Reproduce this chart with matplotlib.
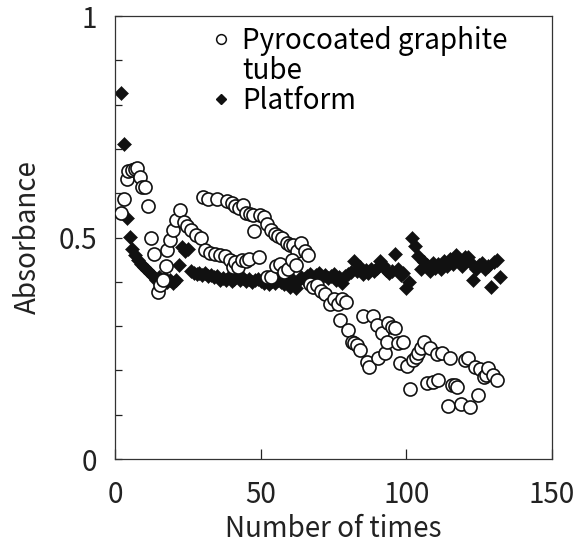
import numpy as np
import matplotlib
matplotlib.use("Agg")
import matplotlib.pyplot as plt
from matplotlib.lines import Line2D

plt.rcParams['font.family'] = ['Noto Sans CJK JP', 'DejaVu Sans']

# ---- data ----
# Platform (filled diamonds), one reading per run
plat_x = list(range(2, 133))
plat_y = [0.826, 0.712, 0.545, 0.502, 0.475, 0.460, 0.449, 0.440, 0.433, 0.427,
          0.420, 0.414, 0.405, 0.410, 0.402, 0.408, 0.400, 0.405, 0.398, 0.403,
          0.437, 0.478, 0.470, 0.474, 0.425, 0.420, 0.418, 0.421, 0.415, 0.419,
          0.413, 0.416, 0.410, 0.414, 0.405, 0.408, 0.404, 0.410, 0.401, 0.407,
          0.412, 0.405, 0.408, 0.402, 0.406, 0.400, 0.404, 0.407, 0.401, 0.398,
          0.403, 0.396, 0.401, 0.397, 0.404, 0.399, 0.395, 0.402, 0.389, 0.404,
          0.385, 0.403, 0.410, 0.406, 0.412, 0.418, 0.409, 0.415, 0.420, 0.411,
          0.416, 0.408, 0.413, 0.418, 0.405, 0.410, 0.398, 0.412, 0.418, 0.422,
          0.447, 0.425, 0.433, 0.418, 0.427, 0.421, 0.430, 0.424, 0.432, 0.447,
          0.438, 0.427, 0.419, 0.425, 0.462, 0.430, 0.416, 0.420, 0.385, 0.400,
          0.500, 0.480, 0.458, 0.430, 0.445, 0.437, 0.425, 0.442, 0.432, 0.440,
          0.428, 0.447, 0.436, 0.452, 0.440, 0.460, 0.448, 0.435, 0.455, 0.457,
          0.445, 0.404, 0.428, 0.437, 0.442, 0.430, 0.435, 0.388, 0.445, 0.450,
          0.410]

# Pyrocoated graphite tube (open circles)
pyro_x = [2.1, 3.0, 4.0, 4.6, 5.9, 7.0, 7.7, 8.6, 9.4, 10.4, 11.3, 12.3, 13.3,
          14.9, 15.6, 16.5, 17.4, 17.9, 18.9, 20.0, 21.1, 22.2,
          23.7, 24.8, 26.0, 27.8, 29.4, 30.9, 32.6, 34.3, 36.0, 37.8, 39.5,
          40.5, 41.2, 42.3, 43.5, 44.8, 46.1, 47.6, 49.5,
          30.1, 32.0, 35.1, 38.3, 40.0, 41.2, 42.6, 43.8, 45.0, 46.3, 47.5,
          49.8, 51.1, 52.1, 53.5, 54.9, 56.0, 57.2, 58.9, 60.0, 61.2, 62.5,
          63.7, 65.2, 66.4,
          52.2, 53.4, 55.3, 56.6, 57.9, 59.3, 60.7, 62.0,
          66.8, 68.1, 69.5, 70.8, 72.1, 73.8, 75.2, 76.7, 77.2, 78.0, 79.3,
          80.1, 81.3, 82.2, 83.0, 84.1, 85.2, 86.4, 87.3, 88.5, 89.8, 90.4,
          91.6, 92.7, 93.3, 93.8, 95.0, 96.1, 97.3, 97.8, 99.0, 100.1, 101.3,
          102.2, 103.2, 104.1, 105.0, 105.9, 107.0, 108.1, 109.1, 110.4, 111.0,
          112.4, 114.3, 115.0, 115.6, 116.7, 117.3, 118.9, 120.0, 121.3, 121.9,
          123.6, 124.7, 125.3, 126.5, 127.2, 128.2, 129.9, 131.0]
pyro_y = [0.556, 0.587, 0.633, 0.650, 0.653, 0.654, 0.656, 0.636, 0.615, 0.613,
          0.570, 0.500, 0.463, 0.377, 0.392, 0.405, 0.436, 0.472, 0.495, 0.517,
          0.540, 0.562,
          0.536, 0.526, 0.517, 0.506, 0.500, 0.472, 0.464, 0.463, 0.460, 0.458,
          0.449, 0.433, 0.445, 0.433, 0.449, 0.447, 0.451, 0.514, 0.457,
          0.592, 0.586, 0.588, 0.583, 0.578, 0.571, 0.566, 0.573, 0.555, 0.553,
          0.551, 0.551, 0.547, 0.530, 0.518, 0.509, 0.503, 0.500, 0.487, 0.482,
          0.483, 0.470, 0.488, 0.470, 0.460,
          0.410, 0.411, 0.435, 0.440, 0.423, 0.430, 0.449, 0.437,
          0.395, 0.389, 0.392, 0.380, 0.372, 0.351, 0.362, 0.351, 0.314, 0.362,
          0.355, 0.291, 0.263, 0.262, 0.257, 0.246, 0.323, 0.220, 0.208, 0.323,
          0.302, 0.227, 0.285, 0.240, 0.265, 0.306, 0.298, 0.295, 0.261, 0.216,
          0.263, 0.210, 0.157, 0.223, 0.230, 0.239, 0.250, 0.263, 0.171, 0.251,
          0.174, 0.237, 0.178, 0.240, 0.119, 0.229, 0.167, 0.166, 0.163, 0.125,
          0.223, 0.229, 0.118, 0.208, 0.144, 0.203, 0.186, 0.190, 0.205, 0.190,
          0.178]

x_ticks = [0, 50, 100, 150]
y_ticks = [0, 0.5, 1]
y_minor = [0.1, 0.2, 0.3, 0.4, 0.6, 0.7, 0.8, 0.9]

# ---- figure ----
fig = plt.figure(figsize=(5.85, 5.48), dpi=100)
ax = fig.add_axes([0.1966, 0.1624, 0.747, 0.8084])

ax.plot(plat_x, plat_y, linestyle='none', marker='D', ms=7.0,
        mfc='#111111', mec='#111111', mew=0.4, zorder=2)
ax.plot(pyro_x, pyro_y, linestyle='none', marker='o', ms=9.4,
        mfc='white', mec='#111111', mew=1.2, zorder=3)

ax.set_xlim(0, 150)
ax.set_ylim(0, 1)
ax.set_xticks(x_ticks)
ax.set_yticks(y_ticks)
ax.set_yticklabels(['0', '0.5', '1'])
ax.set_yticks(y_minor, minor=True)
ax.tick_params(axis='both', which='both', direction='in', labelsize=20,
               colors='#222222', width=0.9)
ax.tick_params(axis='x', which='major', length=7, pad=15)
ax.tick_params(axis='y', which='major', length=5, pad=13)
ax.tick_params(axis='y', which='minor', length=5)
for s in ax.spines.values():
    s.set_linewidth(0.9)
    s.set_color('#333333')

ax.set_xlabel('Number of times', fontsize=20, color='#222222', va='baseline')
ax.xaxis.set_label_coords(0.5, -0.176)
ax.set_ylabel('Absorbance', fontsize=20, color='#222222', va='center')
ax.yaxis.set_label_coords(-0.199, 0.5)

handles = [
    Line2D([], [], linestyle='none', marker='o', ms=7, mfc='white',
           mec='#111111', mew=1.1),
    Line2D([], [], linestyle='none', marker=''),
    Line2D([], [], linestyle='none', marker='D', ms=5.5, mfc='#111111',
           mec='#111111'),
]
labels = ['Pyrocoated graphite', 'tube', 'Platform']
ax.legend(handles, labels, loc='upper left', bbox_to_anchor=(0.208, 0.99),
          frameon=False, fontsize=20, handlelength=0.7, handletextpad=0.4,
          labelspacing=0.0, borderpad=0.2, borderaxespad=0)

fig.savefig('out.png', dpi=100)
